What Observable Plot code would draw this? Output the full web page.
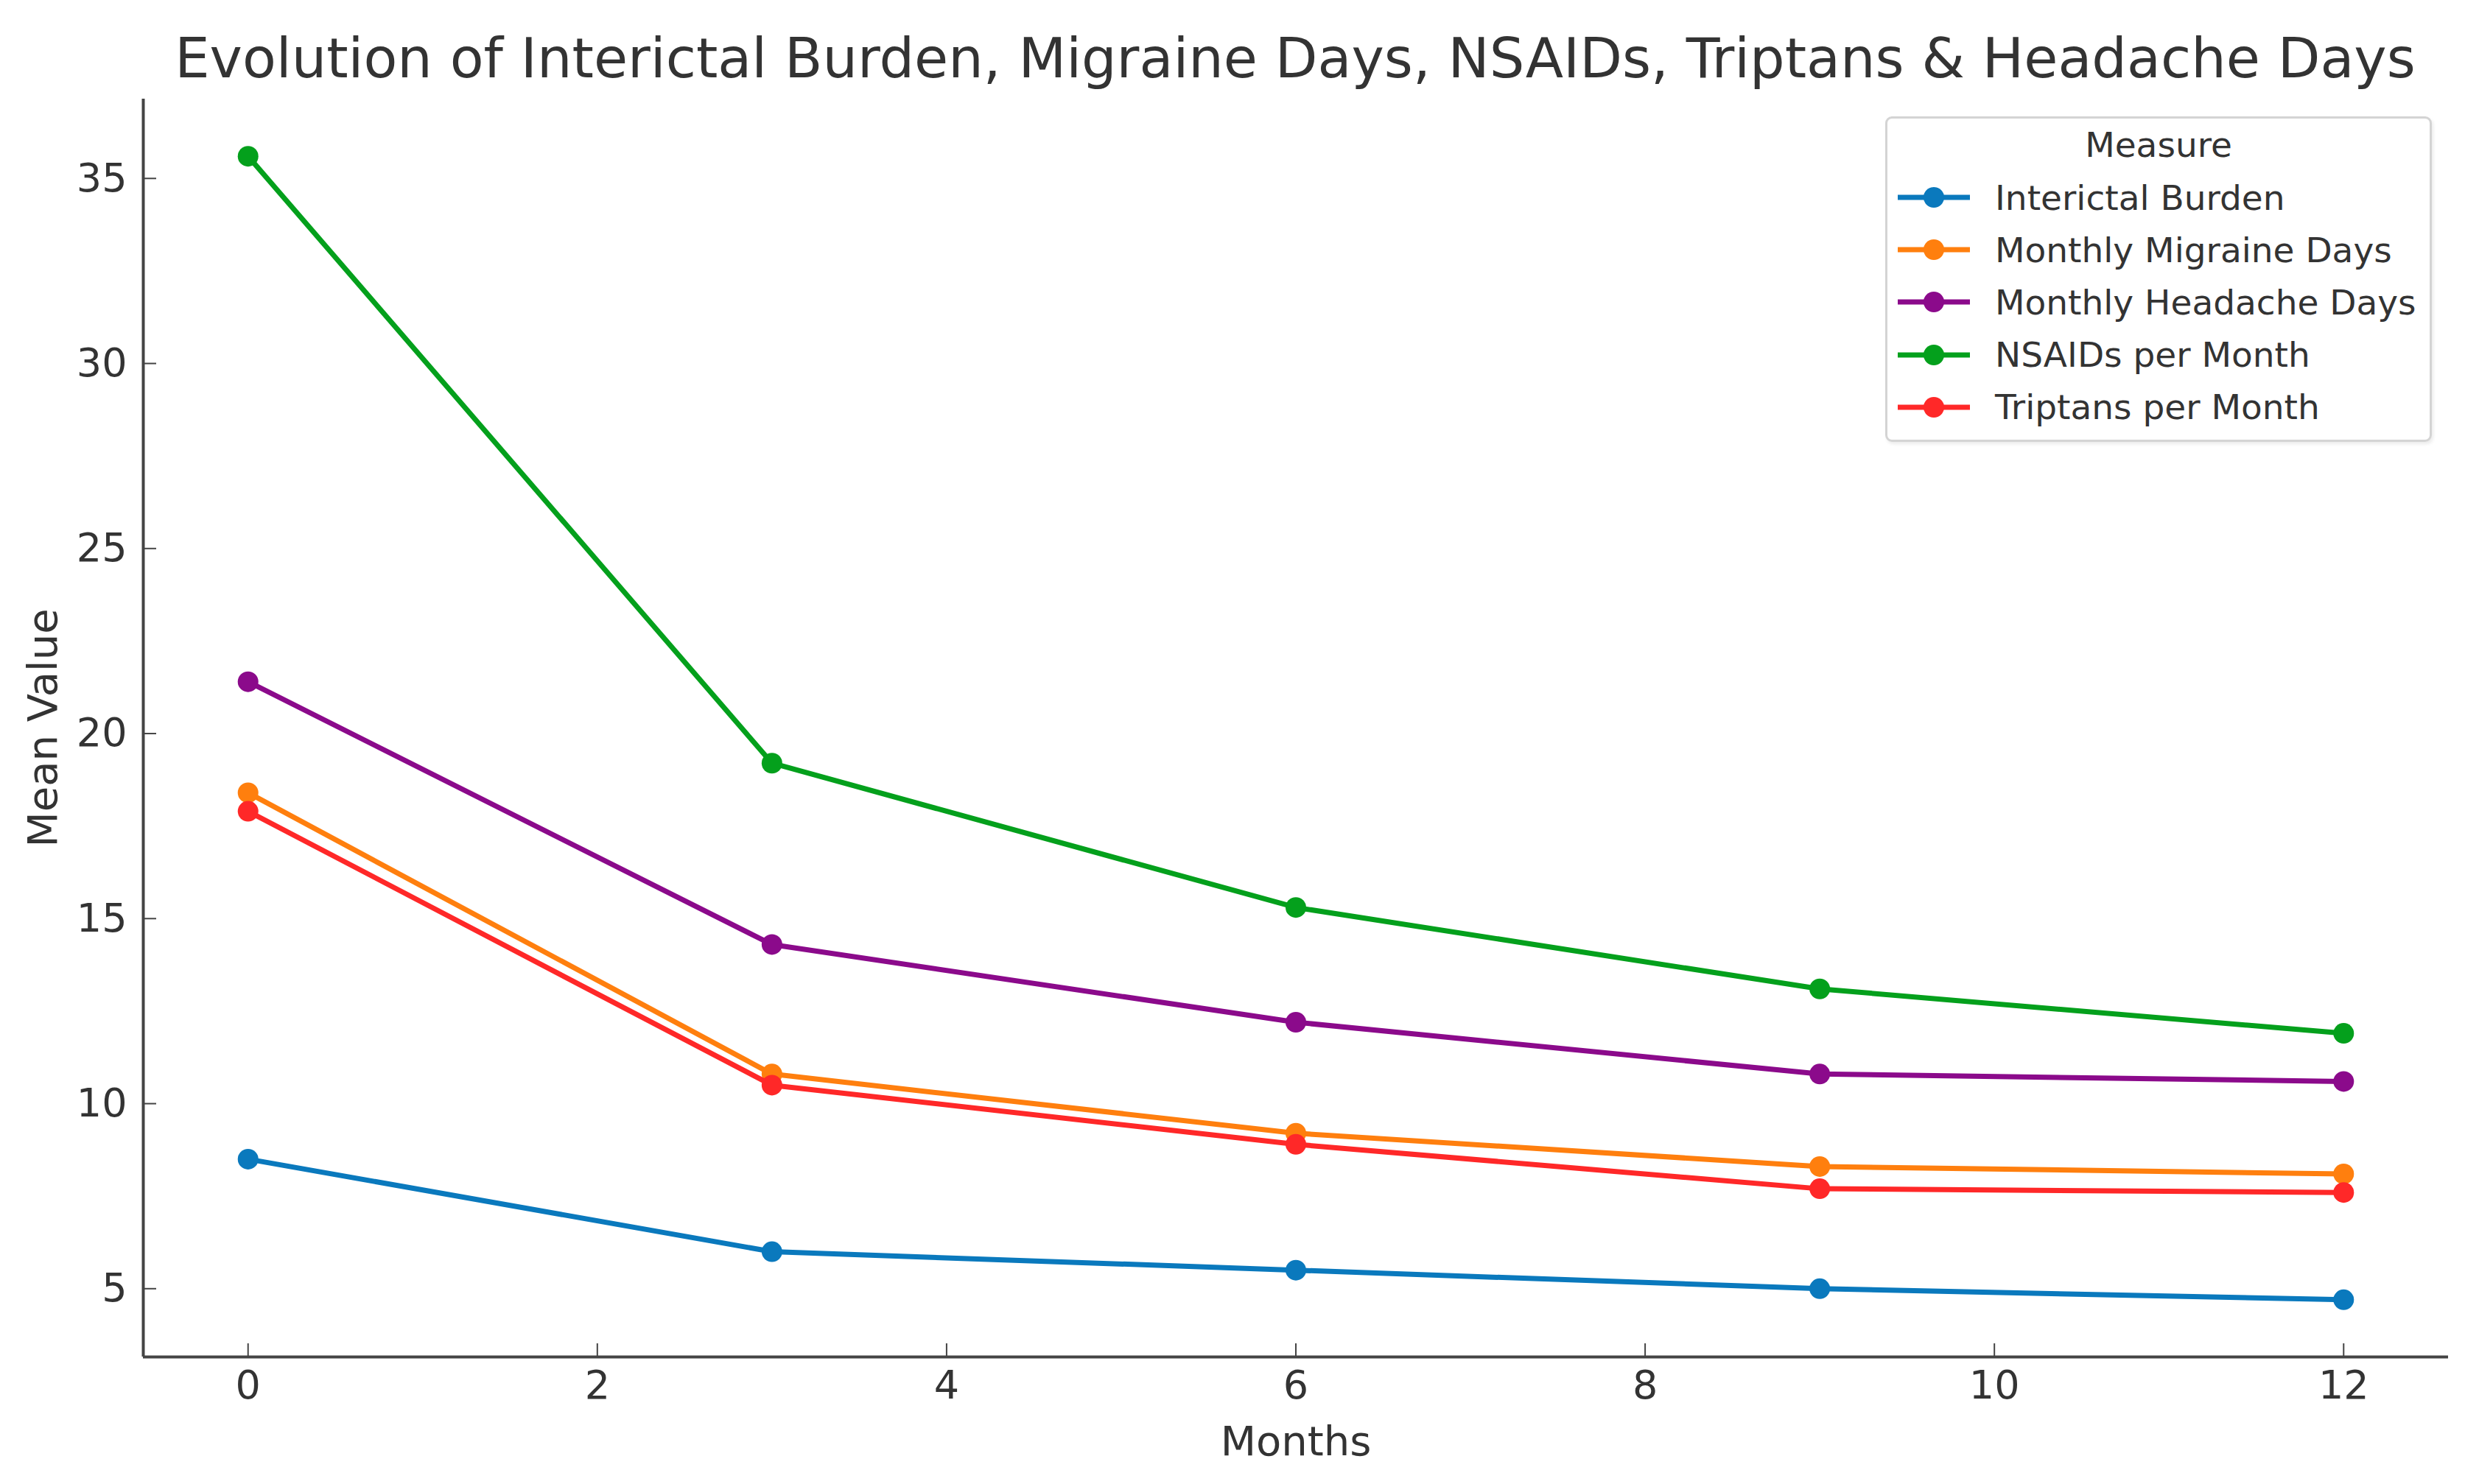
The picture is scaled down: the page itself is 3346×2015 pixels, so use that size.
<!DOCTYPE html>
<html>
<head>
<meta charset="utf-8">
<script src="https://cdn.jsdelivr.net/npm/d3@7"></script>
<script src="https://cdn.jsdelivr.net/npm/@observablehq/plot@0.6"></script>
<style>
  html, body { margin: 0; padding: 0; background: #fff; }
  #wrap { position: relative; width: 3346px; height: 2015px; font-family: "DejaVu Sans", sans-serif; color: #333; }
  #title { height: 134px; box-sizing: border-box; padding-top: 44px; font-size: 75px; line-height: 70px; text-align: center; padding-left: 170px; white-space: nowrap; }
  #legend { position: absolute; left: 2559px; top: 158px; width: 742px; height: 442px; box-sizing: border-box;
            border: 3px solid #d4d4d4; border-radius: 9px; background: rgba(255,255,255,0.85);
            box-shadow: 2px 3px 4px rgba(0,0,0,0.08); }
  #legend .lt { position: absolute; left: 0; right: 0; top: 6px; height: 60px; line-height: 60px; text-align: center; font-size: 47px; }
  #legend .row { position: absolute; left: 0; height: 71px; display: flex; align-items: center; }
  #legend .row svg { margin-left: 14px; }
  #legend .row span { margin-left: 34px; font-size: 47px; white-space: nowrap; }
</style>
</head>
<body>
<div id="wrap">
  <div id="title"></div>
  <div id="chart"></div>
  <div id="legend"></div>
</div>
<script>
const titleText = "Evolution of Interictal Burden, Migraine Days, NSAIDs, Triptans & Headache Days";
const xLabel = "Months";
const yLabel = "Mean Value";
const legendTitle = "Measure";

const months = [0, 3, 6, 9, 12];
const measures = ["Interictal Burden", "Monthly Migraine Days", "Monthly Headache Days", "NSAIDs per Month", "Triptans per Month"];
const colors = ["#0a79bd", "#ff7f0e", "#8b0a8b", "#04a01c", "#ff2828"];

const interictalBurden = [8.5, 6.0, 5.5, 5.0, 4.7];
const migraineDays = [18.4, 10.8, 9.2, 8.3, 8.1];
const headacheDays = [21.4, 14.3, 12.2, 10.8, 10.6];
const nsaidsPerMonth = [35.6, 19.2, 15.3, 13.1, 11.9];
const triptansPerMonth = [17.9, 10.5, 8.9, 7.7, 7.6];

const xTicks = [0, 2, 4, 6, 8, 10, 12];
const yTicks = [5, 10, 15, 20, 25, 30, 35];

const seriesValues = [interictalBurden, migraineDays, headacheDays, nsaidsPerMonth, triptansPerMonth];
const table = [];
measures.forEach((m, i) => months.forEach((mo, j) => table.push({measure: m, month: mo, value: seriesValues[i][j]})));

// matplotlib-style 5% margins
const xMin = d3.min(months), xMax = d3.max(months);
const yMin = d3.min(table, d => d.value), yMax = d3.max(table, d => d.value);
const xPad = (xMax - xMin) * 0.05, yPad = (yMax - yMin) * 0.05;
const xDomain = [xMin - xPad, xMax + xPad];
const yDomain = [yMin - yPad, yMax + yPad];

document.getElementById("title").textContent = titleText;

const axisColor = "#444";
const seriesMarks = measures.flatMap(m => {
  const d = table.filter(r => r.measure === m);
  return [
    Plot.line(d, {x: "month", y: "value", stroke: "measure", strokeWidth: 7, strokeLinejoin: "round"}),
    Plot.dot(d, {x: "month", y: "value", fill: "measure", r: 14})
  ];
});

const chart = Plot.plot({
  width: 3346,
  height: 1881,
  marginTop: 0,
  marginBottom: 173,
  marginLeft: 194,
  marginRight: 23,
  style: {fontFamily: "DejaVu Sans, sans-serif", background: "#fff", color: "#333", overflow: "visible"},
  x: {domain: xDomain},
  y: {domain: yDomain},
  color: {domain: measures, range: colors},
  marks: [
    Plot.axisX({ticks: xTicks, tickFormat: d3.format("d"), tickSize: -18, tickPadding: 36, fontSize: 54, stroke: axisColor, strokeWidth: 2,
                label: xLabel, labelAnchor: "center", labelArrow: false, labelOffset: 133}),
    Plot.axisY({ticks: yTicks, tickFormat: d3.format("d"), tickSize: -18, tickPadding: 40, fontSize: 54, stroke: axisColor, strokeWidth: 2,
                label: yLabel, labelAnchor: "center", labelArrow: false, labelOffset: 157}),
    Plot.ruleX([xDomain[0]], {stroke: axisColor, strokeWidth: 4}),
    Plot.ruleY([yDomain[0]], {stroke: axisColor, strokeWidth: 4}),
    ...seriesMarks
  ]
});
chart.querySelectorAll('[aria-label="x-axis label"] text, [aria-label="y-axis label"] text').forEach(t => t.setAttribute("font-size", 56));
document.getElementById("chart").appendChild(chart);

// legend
const legend = document.getElementById("legend");
const lt = document.createElement("div");
lt.className = "lt";
lt.textContent = legendTitle;
legend.appendChild(lt);
measures.forEach((m, i) => {
  const row = document.createElement("div");
  row.className = "row";
  row.style.top = (107 - 35.5 + i * 71.2) + "px";
  row.innerHTML = `<svg width="98" height="40" viewBox="0 0 98 40"><line x1="0" y1="20" x2="98" y2="20" stroke="${colors[i]}" stroke-width="7"/><circle cx="49" cy="20" r="14" fill="${colors[i]}"/></svg><span>${m}</span>`;
  legend.appendChild(row);
});
</script>
</body>
</html>
